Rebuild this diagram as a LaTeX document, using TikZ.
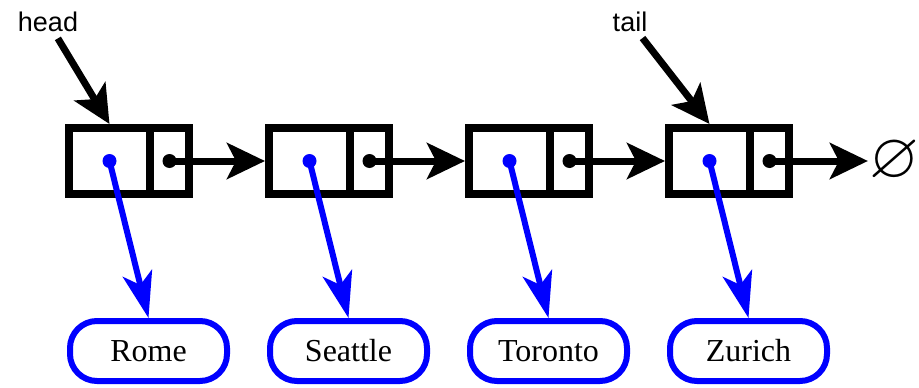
\documentclass[tikz,border=0pt]{standalone}
\usepackage{amssymb}
\usepackage{fontspec}
\setmainfont{Liberation Serif}
\newfontfamily\lsans{Liberation Sans}
\usetikzlibrary{arrows.meta,calc}
\begin{document}
\begin{tikzpicture}[x=1pt,y=-1pt,
  cellL/.style={draw=black, line width=8pt, minimum width=81pt, minimum height=66pt, inner sep=0pt},
  cellR/.style={draw=black, line width=8pt, minimum width=39pt, minimum height=66pt, inner sep=0pt},
  city/.style={draw=blue, line width=6pt, rounded corners=27pt, minimum width=157pt, minimum height=60pt, inner sep=0pt, font=\fontsize{32}{32}\selectfont},
  lbl/.style={font=\lsans\fontsize{27}{27}\selectfont, inner sep=2pt},
  blk/.style={draw=black, line width=7pt, -{Stealth[length=38pt,width=36pt,inset=9pt]}},
  bl/.style={draw=blue, line width=6pt, -{Stealth[length=46pt,width=30pt,inset=12pt]}},
  dotb/.style={fill=black},
  dotu/.style={fill=blue}]
\useasboundingbox (0,0) rectangle (919,388);
\foreach \i/\name in {1/Rome,2/Seattle,3/Toronto,4/Zurich}{
  \pgfmathsetmacro{\dx}{200*(\i-1)}
  \node[cellL] (n\i a) at (109.5+\dx,161) {};
  \node[cellR] (n\i b) at (169.5+\dx,161) {};
  \node[city] (r\i) at (148.5+\dx,351) {\name};
}
\node[lbl] (head) at (48,22) {head};
\node[lbl] (tail) at (630,22) {tail};
\node[inner sep=1pt, font=\fontsize{64}{64}\selectfont] (nil) at (894,161) {$\varnothing$};
\draw[blk, shorten <=5pt] (head) -- (n1a.north);
\draw[blk, shorten <=5pt] (tail) -- (n4a.north);
\draw[blk] (n1b.center) -- (n2a.west);
\draw[blk] (n2b.center) -- (n3a.west);
\draw[blk] (n3b.center) -- (n4a.west);
\draw[blk] (n4b.center) -- (nil);
\foreach \i in {1,2,3,4}{
  \fill[dotb] (n\i b.center) circle (7pt);
  \draw[bl] (n\i a.center) -- (r\i.north);
  \fill[dotu] (n\i a.center) circle (7pt);
}
\end{tikzpicture}
\end{document}
